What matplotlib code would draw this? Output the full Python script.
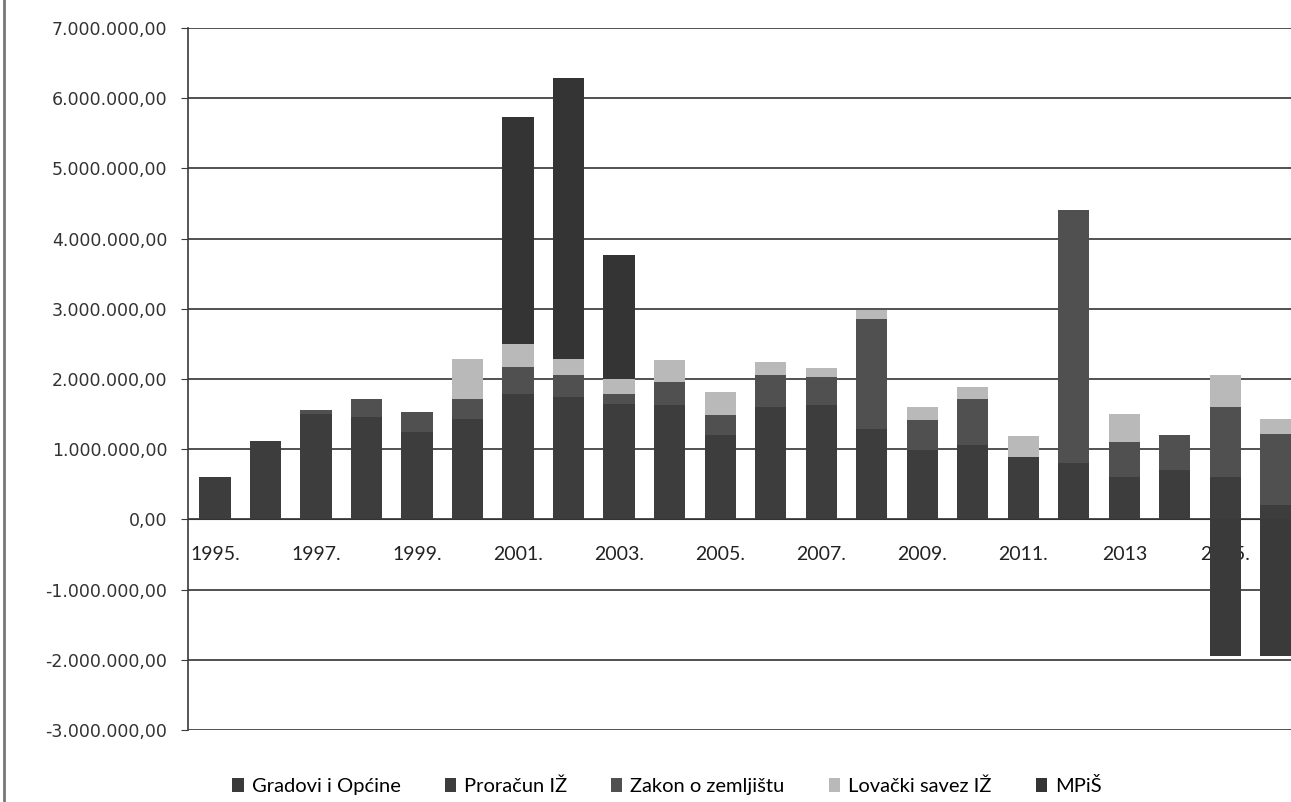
import numpy as np
import matplotlib
matplotlib.use("Agg")
import matplotlib.pyplot as plt
from matplotlib.lines import Line2D
from matplotlib.ticker import FuncFormatter

years = list(range(1995, 2017))
year_labels = [f"{y}." if y != 2013 else "2013" for y in years]

# values in millions
gradovi = [0, 0, 0, 0, 0, 0, 0, 0, 0, 0, 0, 0, 0, 0, 0, 0, 0, 0, 0, 0, -1.94, -1.94]
proracun = [0.60, 1.11, 1.50, 1.46, 1.24, 1.43, 1.79, 1.75, 1.64, 1.63, 1.20, 1.60,
            1.63, 1.29, 0.99, 1.06, 0.89, 0.81, 0.60, 0.71, 0.60, 0.21]
zakon = [0, 0, 0.06, 0.25, 0.29, 0.28, 0.38, 0.31, 0.15, 0.33, 0.29, 0.46,
         0.40, 1.57, 0.42, 0.65, 0, 3.60, 0.50, 0.49, 1.00, 1.00]
lovacki = [0, 0, 0, 0, 0, 0.58, 0.33, 0.23, 0.21, 0.31, 0.32, 0.18,
           0.13, 0.13, 0.19, 0.18, 0.30, 0, 0.40, 0, 0.46, 0.22]
mpis = [0, 0, 0, 0, 0, 0, 3.23, 4.00, 1.77, 0, 0, 0,
        0, 0, 0, 0, 0, 0, 0, 0, 0, 0]

series = [
    ("Gradovi i Općine", gradovi, "#3a3a3a"),
    ("Proračun IŽ", proracun, "#3d3d3d"),
    ("Zakon o zemljištu", zakon, "#505050"),
    ("Lovački savez IŽ", lovacki, "#b9b9b9"),
    ("MPiŠ", mpis, "#343434"),
]

fig = plt.figure(figsize=(12.91, 8.02), dpi=100)
ax = fig.add_axes([188 / 1291, 1 - 730 / 802, 1 - 188 / 1291, (730 - 28) / 802])

x = np.arange(len(years))
pos_bottom = np.zeros(len(years))
neg_bottom = np.zeros(len(years))
for name, vals, col in series:
    v = np.array(vals) * 1e6
    bottom = np.where(v >= 0, pos_bottom, neg_bottom)
    ax.bar(x, v, 0.62, bottom=bottom, color=col, label=name, zorder=3)
    pos_bottom += np.where(v > 0, v, 0)
    neg_bottom += np.where(v < 0, v, 0)

ax.set_xlim(-0.535, 21.3)
ax.set_ylim(-3e6, 7e6)
ax.set_yticks(np.arange(-3e6, 7.1e6, 1e6))


def fmt(val, pos):
    s = f"{abs(val):,.2f}".replace(",", " ").replace(".", ",").replace(" ", ".")
    return ("-" if val < 0 else "") + s


ax.yaxis.set_major_formatter(FuncFormatter(fmt))
ax.grid(axis="y", color="#333333", linewidth=1.2)
ax.set_axisbelow(True)

for s in ["top", "right"]:
    ax.spines[s].set_visible(False)
ax.spines["bottom"].set_position(("data", 0))
ax.spines["bottom"].set_color("#333333")
ax.spines["left"].set_color("#3a3a3a")
ax.spines["left"].set_linewidth(1.2)

ax.set_xticks(x[::2])
ax.set_xticklabels(year_labels[::2], fontsize=14, family="Lato", color="#222222")
ax.tick_params(axis="x", length=0, pad=19)
ax.tick_params(axis="y", length=5, color="#3a3a3a", labelsize=12.5, labelcolor="#333333", pad=10)

fig.legend(loc="center", bbox_to_anchor=(667 / 1291, 1 - 786 / 802), ncol=5, frameon=False,
           handlelength=0.55, handleheight=0.75, handletextpad=0.4, columnspacing=2.2,
           prop={"family": "Lato", "size": 14.5})

fig.add_artist(Line2D([4 / 1291, 4 / 1291], [0, 1], color="#777777", linewidth=2))

fig.savefig("out.png", dpi=100)
